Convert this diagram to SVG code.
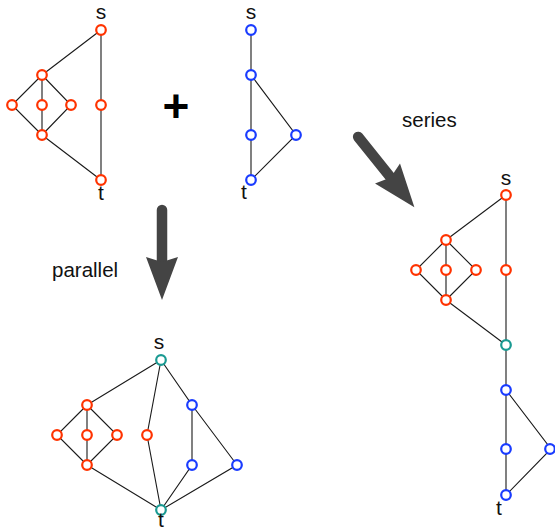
<svg xmlns="http://www.w3.org/2000/svg" xmlns:xlink="http://www.w3.org/1999/xlink" width="555" height="530" viewBox="0 0 555 530">
<style>
.e{stroke:#1a1a1a;stroke-width:1.1;fill:none}
.n{fill:#fff;stroke-width:2.2}
.r{stroke:#ff3300}
.b{stroke:#1a3cff}
.c{stroke:#1a9a92}
.lbl{font-family:"Liberation Sans",Arial,sans-serif;font-size:21px;fill:#111;text-anchor:middle}
.cap{font-family:"Liberation Sans",Arial,sans-serif;font-size:20.5px;fill:#111}
</style>
<defs>
<g id="bigArrow">
<line x1="0" y1="5" x2="0" y2="60" stroke="#444" stroke-width="10.5" stroke-linecap="round"/>
<path d="M-16,52 L0,57 L16,52 L0,95 Z" fill="#444"/>
</g>
</defs>
<rect width="555" height="530" fill="#fff"/>
<g id="connectors">
<path class="e" d="M101,30 L42,75 M101,30 L101,180 M42,75 L12,105 L42,135 M42,75 L42,135 M42,75 L71,105 L42,135 M42,135 L101,180"/>
<path class="e" d="M251,30 L251,180 M251,75 L296,135 L251,180"/>
<path class="e" d="M506,195 L446,240 M506,195 L506,495 M446,240 L416,270 L446,300 M446,240 L446,300 M446,240 L476,270 L446,300 M446,300 L506,345 M506,390 L551,449 L506,495"/>
<path class="e" d="M161,360 L87,405 M87,405 L57,435 L87,465 M87,405 L87,465 M87,405 L117,435 L87,465 M87,465 L161,510 M161,360 L147,435 L161,510 M161,360 L192,405 L192,465 L161,510 M192,405 L237,465 L161,510"/>
</g>
<g id="arrows">
<use xlink:href="#bigArrow" transform="translate(162,205)"/>
<use xlink:href="#bigArrow" transform="translate(355,133) rotate(-38.7)"/>
</g>
<g id="graph1">
<g id="g1s"><circle class="n r" cx="101" cy="30" r="4.8"/><text class="lbl" x="101" y="19">s</text></g>
<g id="g1a"><circle class="n r" cx="42" cy="75" r="4.8"/></g>
<g id="g1l"><circle class="n r" cx="12" cy="105" r="4.8"/></g>
<g id="g1m"><circle class="n r" cx="42" cy="105" r="4.8"/></g>
<g id="g1r"><circle class="n r" cx="71" cy="105" r="4.8"/></g>
<g id="g1p"><circle class="n r" cx="101" cy="105" r="4.8"/></g>
<g id="g1b"><circle class="n r" cx="42" cy="135" r="4.8"/></g>
<g id="g1t"><circle class="n r" cx="101" cy="180" r="4.8"/><text class="lbl" x="101" y="200">t</text></g>
</g>
<g id="plus"><text x="176" y="122" font-family="Liberation Sans, Arial, sans-serif" font-size="46" font-weight="bold" text-anchor="middle" fill="#000">+</text></g>
<g id="graph2">
<g id="g2s"><circle class="n b" cx="251" cy="30" r="4.8"/><text class="lbl" x="251" y="19">s</text></g>
<g id="g2a"><circle class="n b" cx="251" cy="75" r="4.8"/></g>
<g id="g2b"><circle class="n b" cx="251" cy="135" r="4.8"/></g>
<g id="g2c"><circle class="n b" cx="296" cy="135" r="4.8"/></g>
<g id="g2t"><circle class="n b" cx="251" cy="180" r="4.8"/><text class="lbl" x="244" y="199">t</text></g>
</g>
<g id="series">
<g id="ss"><circle class="n r" cx="506" cy="195" r="4.8"/><text class="lbl" x="506" y="185">s</text></g>
<g id="sa"><circle class="n r" cx="446" cy="240" r="4.8"/></g>
<g id="sl"><circle class="n r" cx="416" cy="270" r="4.8"/></g>
<g id="sm"><circle class="n r" cx="446" cy="270" r="4.8"/></g>
<g id="sr"><circle class="n r" cx="476" cy="270" r="4.8"/></g>
<g id="sp"><circle class="n r" cx="506" cy="270" r="4.8"/></g>
<g id="sb"><circle class="n r" cx="446" cy="300" r="4.8"/></g>
<g id="sj"><circle class="n c" cx="506" cy="345" r="4.8"/></g>
<g id="sba"><circle class="n b" cx="506" cy="390" r="4.8"/></g>
<g id="sbb"><circle class="n b" cx="506" cy="449" r="4.8"/></g>
<g id="sbc"><circle class="n b" cx="550" cy="449" r="4.8"/></g>
<g id="st"><circle class="n b" cx="506" cy="495" r="4.8"/><text class="lbl" x="499" y="515">t</text></g>
</g>
<g id="parallel">
<g id="ps"><circle class="n c" cx="161" cy="360" r="4.8"/><text class="lbl" x="159" y="349">s</text></g>
<g id="pa"><circle class="n r" cx="87" cy="405" r="4.8"/></g>
<g id="pl"><circle class="n r" cx="57" cy="435" r="4.8"/></g>
<g id="pm"><circle class="n r" cx="87" cy="435" r="4.8"/></g>
<g id="pr"><circle class="n r" cx="117" cy="435" r="4.8"/></g>
<g id="pp"><circle class="n r" cx="147" cy="435" r="4.8"/></g>
<g id="pb"><circle class="n r" cx="87" cy="465" r="4.8"/></g>
<g id="pba"><circle class="n b" cx="192" cy="405" r="4.8"/></g>
<g id="pbb"><circle class="n b" cx="192" cy="465" r="4.8"/></g>
<g id="pbc"><circle class="n b" cx="237" cy="465" r="4.8"/></g>
<g id="pt"><circle class="n c" cx="161" cy="510" r="4.8"/><text class="lbl" x="161" y="527">t</text></g>
</g>
<g id="captions">
<text class="cap" x="52" y="277">parallel</text>
<text class="cap" x="402" y="127">series</text>
</g>
</svg>
